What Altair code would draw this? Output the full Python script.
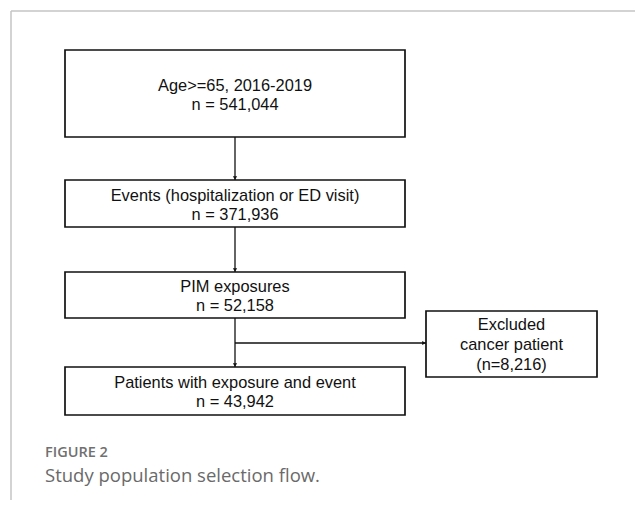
import altair as alt
import pandas as pd

# ---- content ----
box_titles = ["Age>=65, 2016-2019", "Events (hospitalization or ED visit)",
              "PIM exposures", "Patients with exposure and event"]
box_counts = ["n = 541,044", "n = 371,936", "n = 52,158", "n = 43,942"]
excluded_lines = ["Excluded", "cancer patient", "(n=8,216)"]
figure_label = "FIGURE 2"
figure_title = "Study population selection flow."

# ---- layout (page pixel coordinates) ----
box_x = (65, 405)
box_y = [(50, 137), (180, 227), (272, 318), (367, 415)]
text_base = [(91, 110), (201, 220), (292, 311), (388, 407)]
excl_box = (426, 597, 311, 377)
excl_base = [330, 350, 370]
stem_x = 235
branch_y = 343

xs = alt.Scale(domain=[8, 635], nice=False, zero=False)
ys = alt.Scale(domain=[8, 500], nice=False, zero=False, reverse=True)

boxes = pd.DataFrame(
    [dict(x1=box_x[0], x2=box_x[1], y1=a, y2=b) for a, b in box_y]
    + [dict(x1=excl_box[0], x2=excl_box[1], y1=excl_box[2], y2=excl_box[3])]
)

texts = []
for t, c, (b1, b2) in zip(box_titles, box_counts, text_base):
    texts.append(dict(x=stem_x, y=b1, t=t))
    texts.append(dict(x=stem_x, y=b2, t=c))
ex_cx = (excl_box[0] + excl_box[1]) / 2
for t, b in zip(excluded_lines, excl_base):
    texts.append(dict(x=ex_cx, y=b, t=t))
texts = pd.DataFrame(texts)

lines = []
for i in range(len(box_y) - 1):
    lines.append(dict(x1=stem_x, x2=stem_x, y1=box_y[i][1], y2=box_y[i + 1][0]))
lines.append(dict(x1=stem_x, x2=excl_box[0], y1=branch_y, y2=branch_y))
lines = pd.DataFrame(lines)

heads_down = pd.DataFrame([dict(x=stem_x, y=box_y[i + 1][0] - 2) for i in range(len(box_y) - 1)])
heads_right = pd.DataFrame([dict(x=excl_box[0] - 2, y=branch_y)])

frame = pd.DataFrame([dict(x1=11, x2=635, y1=11, y2=11), dict(x1=11, x2=11, y1=11, y2=500)])

caps = pd.DataFrame([dict(x=45, y=457, t=figure_label)])
caps2 = pd.DataFrame([dict(x=45, y=482, t=figure_title)])

frame_l = alt.Chart(frame).mark_rule(color="#c4c4c4", strokeWidth=1.5).encode(
    x=alt.X("x1:Q", scale=xs, axis=None), x2="x2:Q",
    y=alt.Y("y1:Q", scale=ys, axis=None), y2="y2:Q")

line_l = alt.Chart(lines).mark_rule(color="#111", strokeWidth=1.3).encode(
    x=alt.X("x1:Q", scale=xs, axis=None), x2="x2:Q",
    y=alt.Y("y1:Q", scale=ys, axis=None), y2="y2:Q")

box_l = alt.Chart(boxes).mark_rect(fill="white", stroke="#111", strokeWidth=1.7).encode(
    x=alt.X("x1:Q", scale=xs, axis=None), x2="x2:Q",
    y=alt.Y("y1:Q", scale=ys, axis=None), y2="y2:Q")

hd_l = alt.Chart(heads_down).mark_point(shape="triangle-down", filled=True, size=18,
                                        color="#111", opacity=1).encode(
    x=alt.X("x:Q", scale=xs, axis=None), y=alt.Y("y:Q", scale=ys, axis=None))
hr_l = alt.Chart(heads_right).mark_point(shape="triangle-right", filled=True, size=18,
                                         color="#111", opacity=1).encode(
    x=alt.X("x:Q", scale=xs, axis=None), y=alt.Y("y:Q", scale=ys, axis=None))

text_l = alt.Chart(texts).mark_text(font="Liberation Sans", fontSize=16.4, color="#111",
                                    align="center", baseline="alphabetic").encode(
    x=alt.X("x:Q", scale=xs, axis=None), y=alt.Y("y:Q", scale=ys, axis=None), text="t:N")

cap1 = alt.Chart(caps).mark_text(font="Open Sans", fontSize=14.5, fontWeight=600, color="#707070",
                                 align="left", baseline="alphabetic").encode(
    x=alt.X("x:Q", scale=xs, axis=None), y=alt.Y("y:Q", scale=ys, axis=None), text="t:N")
cap2 = alt.Chart(caps2).mark_text(font="Open Sans", fontSize=18.5, color="#6a6a6a",
                                  align="left", baseline="alphabetic").encode(
    x=alt.X("x:Q", scale=xs, axis=None), y=alt.Y("y:Q", scale=ys, axis=None), text="t:N")

chart = alt.layer(frame_l, line_l, box_l, hd_l, hr_l, text_l, cap1, cap2).properties(
    width=627, height=492, padding=0, autosize=alt.AutoSizeParams(type="none"),
    background="white"
).configure_view(stroke=None)

chart.save("out.html", embed_options={"renderer": "svg", "actions": False})
